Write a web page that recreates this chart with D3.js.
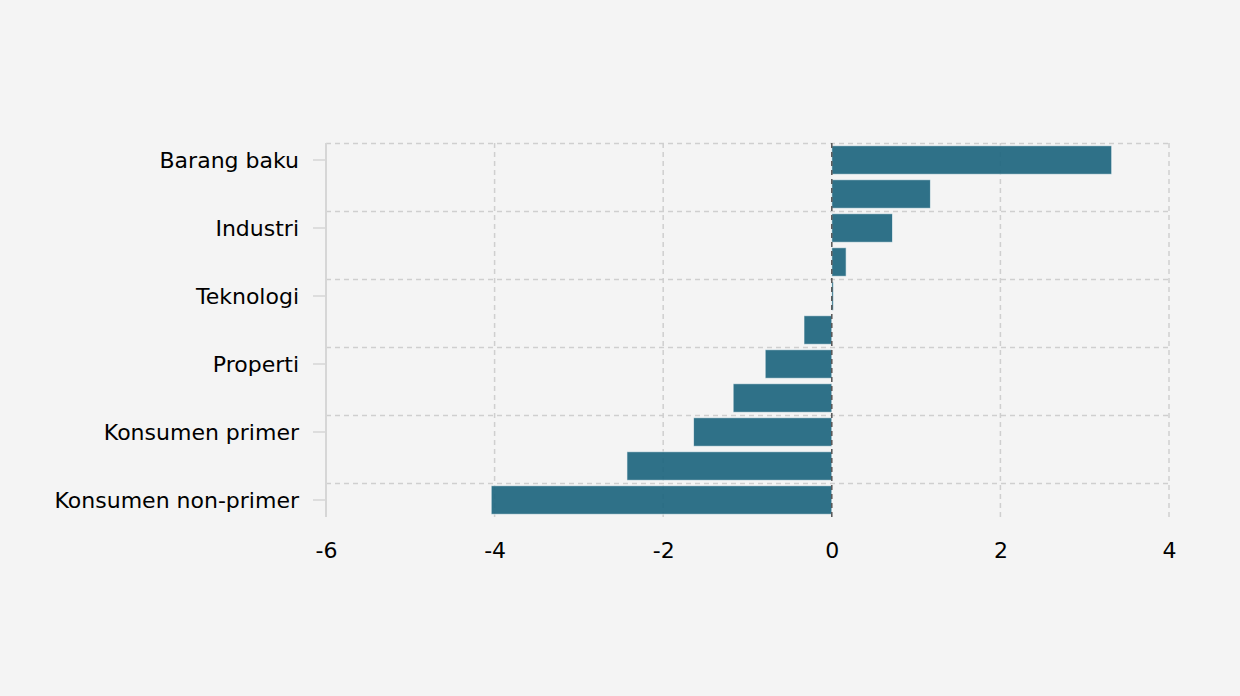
<!DOCTYPE html>
<html><head><meta charset="utf-8">
<script src="https://cdn.jsdelivr.net/npm/d3@7"></script>
<style>
html,body{margin:0;padding:0;background:#f4f4f4;}
svg{display:block;font-family:"DejaVu Sans",Verdana,sans-serif;}
</style></head>
<body>
<svg id="chart" width="1240" height="696"></svg>
<script>
const categories = ["Barang baku","Energi","Industri","Infrastruktur","Teknologi","Keuangan","Properti","Kesehatan","Konsumen primer","Transportasi & logistik","Konsumen non-primer"];
const values = [3.32, 1.17, 0.72, 0.17, 0.02, -0.33, -0.79, -1.17, -1.64, -2.43, -4.04];
const xTicks = [-6, -4, -2, 0, 2, 4];

(function () {
const svg = d3.select("#chart");
const W = 1240, H = 696;
svg.append("rect").attr("width", W).attr("height", H).attr("fill", "#f4f4f4");

const pl = 326, pr = 1169, pt = 143, pb = 517;
const x = d3.scaleLinear().domain([-6, 4]).range([pl, pr]);
const y = d3.scaleBand().domain(categories).range([pt, pb]).paddingInner(0.16).paddingOuter(0.08);
const yb = d3.scaleBand().domain(categories).range([pt, pb]);

const g = svg.append("g");

g.selectAll(".hg").data(categories.filter((d, i) => i % 2 === 0)).enter().append("line")
  .attr("x1", pl).attr("x2", pr)
  .attr("y1", d => yb(d) + 0.5).attr("y2", d => yb(d) + 0.5)
  .attr("stroke", "#cfcfcf").attr("stroke-width", 1.5).attr("stroke-dasharray", "5,4");

g.selectAll(".vg").data(xTicks.filter(t => t !== 0 && t !== -6)).enter().append("line")
  .attr("x1", d => x(d)).attr("x2", d => x(d))
  .attr("y1", pt).attr("y2", pb)
  .attr("stroke", "#cfcfcf").attr("stroke-width", 1.5).attr("stroke-dasharray", "5,4");

g.selectAll(".bar").data(values).enter().append("rect")
  .attr("x", (d) => x(Math.min(0, d)))
  .attr("width", d => Math.abs(x(d) - x(0)))
  .attr("y", (d, i) => y(categories[i]))
  .attr("height", y.bandwidth())
  .attr("fill", "#1a637c").attr("fill-opacity", 0.9)
  .attr("stroke", "#ffffff").attr("stroke-opacity", 0.6).attr("stroke-width", 1);

g.append("line")
  .attr("x1", x(0)).attr("x2", x(0)).attr("y1", pt).attr("y2", pb)
  .attr("stroke", "#555").attr("stroke-width", 1.5).attr("stroke-dasharray", "5,4");

g.append("line").attr("x1", pl).attr("x2", pl).attr("y1", pt).attr("y2", pb)
  .attr("stroke", "#d6d6d6").attr("stroke-width", 2);

const shown = categories.filter((d, i) => i % 2 === 0);
const yAxis = d3.axisLeft(yb).tickValues(shown).tickSize(13).tickPadding(14);
const ya = svg.append("g").attr("transform", `translate(${pl},0)`).call(yAxis);
ya.attr("font-size", null).attr("font-family", null);
ya.select(".domain").remove();
ya.selectAll(".tick line").attr("stroke", "#d6d6d6").attr("stroke-width", 1.5);
ya.selectAll(".tick text").attr("fill", "#000").attr("font-size", 22)
  .attr("font-family", "'DejaVu Sans', Verdana, sans-serif").attr("dy", "0.36em");

const xAxis = d3.axisBottom(x).tickValues(xTicks).tickSize(0).tickPadding(25)
  .tickFormat(d => String(d));
const xa = svg.append("g").attr("transform", `translate(0,${pb})`).call(xAxis);
xa.attr("font-size", null).attr("font-family", null);
xa.select(".domain").remove();
xa.selectAll(".tick text").attr("fill", "#000").attr("font-size", 22)
  .attr("font-family", "'DejaVu Sans', Verdana, sans-serif");
})();
</script>
</body></html>
